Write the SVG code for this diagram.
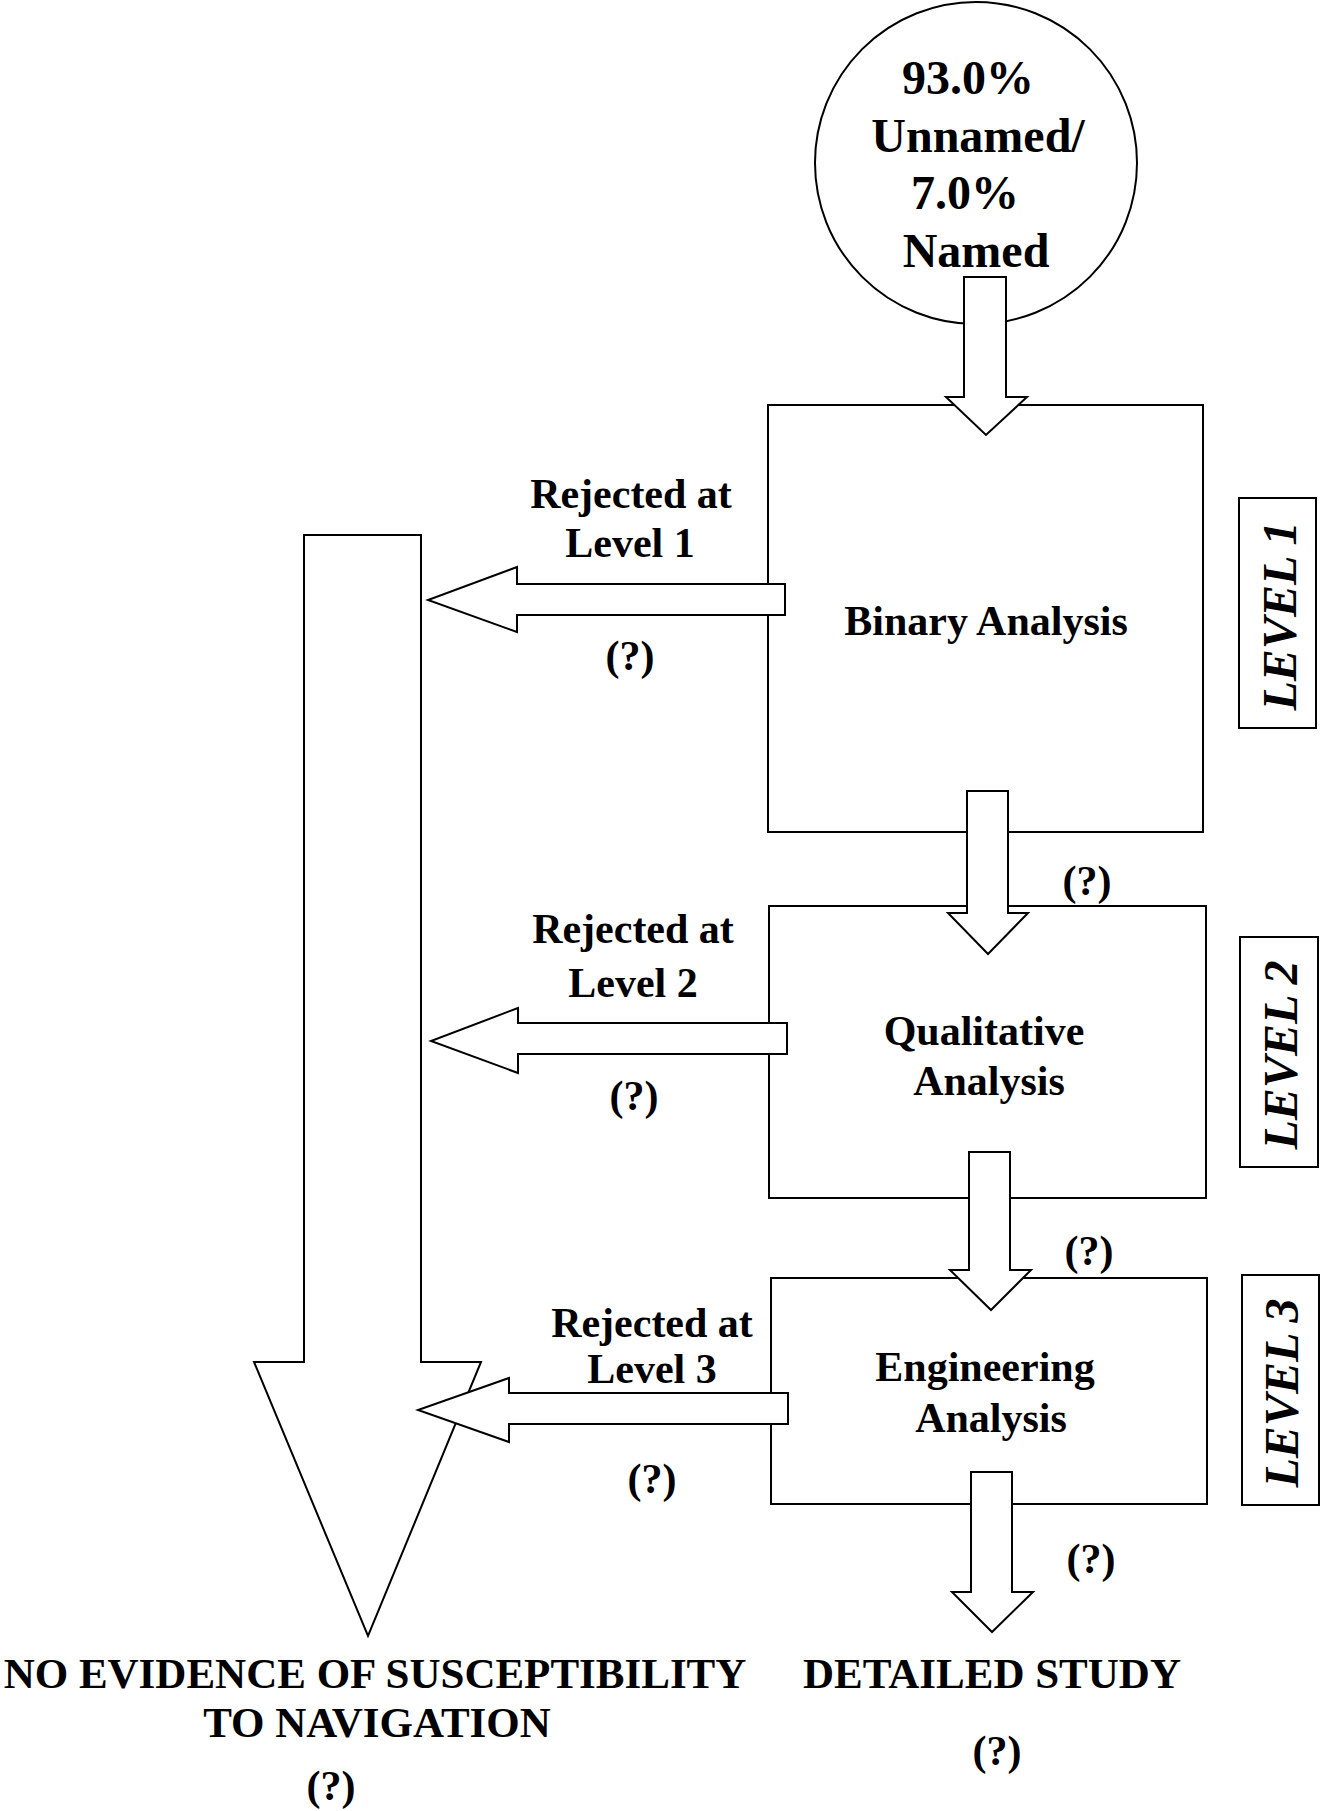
<svg xmlns="http://www.w3.org/2000/svg" width="1321" height="1811" viewBox="0 0 1321 1811">
<style>
.s{fill:#fff;stroke:#000;stroke-width:2;stroke-linejoin:miter}
.t{font-family:"Liberation Serif","Times New Roman",serif;font-weight:bold;font-size:42px;fill:#000;text-anchor:middle}
.c{font-size:48px}
.lv{font-style:italic;font-size:48px}
.b{font-size:43px}
</style>
<rect width="1321" height="1811" fill="#fff"/>
<g id="start">
<circle class="s" cx="976" cy="163" r="161"/>
<text class="t c" x="968" y="94">93.0%</text>
<text class="t c" x="978" y="152">Unnamed/</text>
<text class="t c" x="965" y="209">7.0%</text>
<text class="t c" x="976" y="267">Named</text>
</g>
<g id="binary">
<rect class="s" x="768" y="405" width="435" height="427"/>
<text class="t" x="986" y="635">Binary Analysis</text>
</g>
<g id="qualitative">
<rect class="s" x="769" y="906" width="437" height="292"/>
<text class="t" x="984" y="1045">Qualitative</text>
<text class="t" x="989" y="1095">Analysis</text>
</g>
<g id="engineering">
<rect class="s" x="771" y="1278" width="436" height="226"/>
<text class="t" x="985" y="1381">Engineering</text>
<text class="t" x="991" y="1432">Analysis</text>
</g>
<g id="level1">
<rect class="s" x="1239" y="498" width="77" height="230"/>
<text class="t lv" x="1296" y="616" transform="rotate(-90 1296 616)">LEVEL 1</text>
</g>
<g id="level2">
<rect class="s" x="1240" y="937" width="78" height="230"/>
<text class="t lv" x="1297" y="1055" transform="rotate(-90 1297 1055)">LEVEL 2</text>
</g>
<g id="level3">
<rect class="s" x="1242" y="1275" width="77" height="230"/>
<text class="t lv" x="1298" y="1393" transform="rotate(-90 1298 1393)">LEVEL 3</text>
</g>
<g id="connectors">
<polygon class="s" points="304,535 421,535 421,1362 481,1362 368,1636 254,1362 304,1362"/>
<polygon class="s" points="964,277 1006,277 1006,397 1027,397 986,435 946,397 964,397"/>
<polygon class="s" points="967,791 1008,791 1008,913 1028,913 988,954 948,913 967,913"/>
<polygon class="s" points="969,1152 1010,1152 1010,1270 1031,1270 991,1310 950,1270 969,1270"/>
<polygon class="s" points="971,1472 1012,1472 1012,1592 1033,1592 992,1632 952,1592 971,1592"/>
<polygon class="s" points="785,584 517,584 517,567 428,600 517,632 517,615 785,615"/>
<polygon class="s" points="787,1023 518,1023 518,1008 431,1041 518,1073 518,1054 787,1054"/>
<polygon class="s" points="788,1393 509,1393 509,1378 418,1410 509,1442 509,1424 788,1424"/>
</g>
<g id="labels">
<text class="t" x="631" y="508">Rejected at</text>
<text class="t" x="630" y="557">Level 1</text>
<text class="t" x="630" y="670">(?)</text>
<text class="t" x="633" y="943">Rejected at</text>
<text class="t" x="633" y="997">Level 2</text>
<text class="t" x="634" y="1110">(?)</text>
<text class="t" x="652" y="1337">Rejected at</text>
<text class="t" x="652" y="1383">Level 3</text>
<text class="t" x="652" y="1493">(?)</text>
<text class="t" x="1087" y="895">(?)</text>
<text class="t" x="1089" y="1265">(?)</text>
<text class="t" x="1091" y="1573">(?)</text>
<text class="t b" x="375" y="1688">NO EVIDENCE OF SUSCEPTIBILITY</text>
<text class="t b" x="377" y="1737">TO NAVIGATION</text>
<text class="t" x="331" y="1800">(?)</text>
<text class="t b" x="992" y="1688">DETAILED STUDY</text>
<text class="t" x="997" y="1765">(?)</text>
</g>
</svg>
